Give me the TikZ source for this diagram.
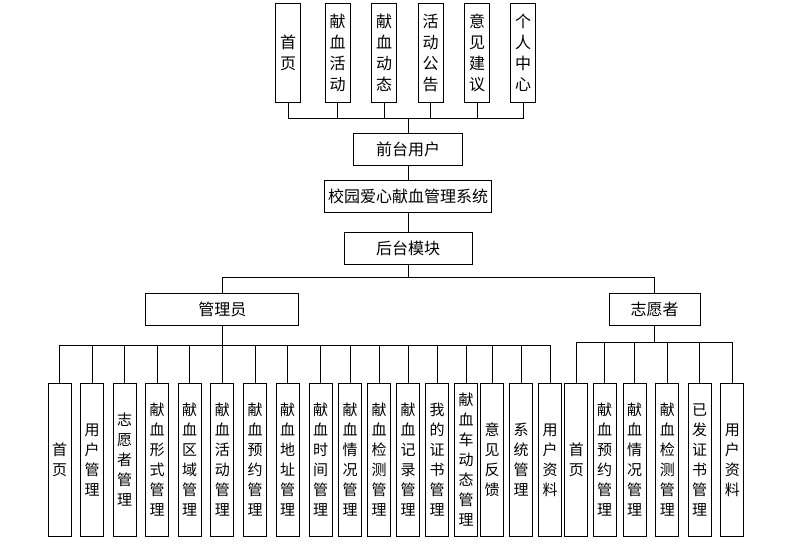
\documentclass[tikz,border=0pt]{standalone}
\usepackage{fontspec}
\newfontfamily\cjk{Noto Sans CJK SC}
\tikzset{
  box/.style={draw=black, line width=0.8pt, inner sep=0pt, align=center,
    font=\cjk\fontsize{16}{21}\selectfont},
  hbox/.style={box, minimum height=32pt},
  topbox/.style={box, minimum width=25pt, minimum height=98.5pt},
  leaf/.style={box, minimum width=23pt, minimum height=153.7pt,
    font=\cjk\fontsize{15}{20}\selectfont},
  link/.style={line width=0.8pt, draw=black}
}
\begin{document}
\begin{tikzpicture}[x=1pt,y=-1pt]
\useasboundingbox (0,0) rectangle (812,547);
% top row
\node[topbox] (t1) at (288,52.75) {首\\页};
\node[topbox] (t2) at (337.5,52.75) {献\\血\\活\\动};
\node[topbox] (t3) at (384,52.75) {献\\血\\动\\态};
\node[topbox] (t4) at (430.5,52.75) {活\\动\\公\\告};
\node[topbox] (t5) at (477,52.75) {意\\见\\建\\议};
\node[topbox] (t6) at (523,52.75) {个\\人\\中\\心};
% middle column
\node[hbox, minimum width=109pt] (qt) at (408,149) {前台用户};
\node[hbox, minimum width=167pt] (sys) at (408,196) {校园爱心献血管理系统};
\node[hbox, minimum width=128pt] (bk) at (408,248) {后台模块};
\node[hbox, minimum width=153pt] (adm) at (222.3,309) {管理员};
\node[hbox, minimum width=91pt] (vol) at (654.5,309) {志愿者};
% admin leaves
\node[leaf] (a1) at (59.5,460) {首\\页};
\node[leaf] (a2) at (92,460) {用\\户\\管\\理};
\node[leaf] (a3) at (124.5,460) {志\\愿\\者\\管\\理};
\node[leaf] (a4) at (157,460) {献\\血\\形\\式\\管\\理};
\node[leaf] (a5) at (189.5,460) {献\\血\\区\\域\\管\\理};
\node[leaf] (a6) at (222.3,460) {献\\血\\活\\动\\管\\理};
\node[leaf] (a7) at (255,460) {献\\血\\预\\约\\管\\理};
\node[leaf] (a8) at (287.5,460) {献\\血\\地\\址\\管\\理};
\node[leaf] (a9) at (320.5,460) {献\\血\\时\\间\\管\\理};
\node[leaf] (a10) at (350,460) {献\\血\\情\\况\\管\\理};
\node[leaf] (a11) at (379,460) {献\\血\\检\\测\\管\\理};
\node[leaf] (a12) at (408,460) {献\\血\\记\\录\\管\\理};
\node[leaf] (a13) at (437,460) {我\\的\\证\\书\\管\\理};
\node[leaf] (a14) at (466,460) {献\\血\\车\\动\\态\\管\\理};
\node[leaf] (a15) at (492,460) {意\\见\\反\\馈};
\node[leaf] (a16) at (521,460) {系\\统\\管\\理};
\node[leaf] (a17) at (550,460) {用\\户\\资\\料};
% volunteer leaves
\node[leaf] (v1) at (576.3,460) {首\\页};
\node[leaf] (v2) at (604.7,460) {献\\血\\预\\约\\管\\理};
\node[leaf] (v3) at (634.7,460) {献\\血\\情\\况\\管\\理};
\node[leaf] (v4) at (667.3,460) {献\\血\\检\\测\\管\\理};
\node[leaf] (v5) at (699.7,460) {已\\发\\证\\书\\管\\理};
\node[leaf] (v6) at (732.3,460) {用\\户\\资\\料};
% buses
\coordinate (b1) at (408,118);
\coordinate (b2) at (408,277);
\coordinate (b3) at (222.3,345);
\coordinate (b4) at (654.5,342);
% connectors
\foreach \n in {t1,t2,t3,t4,t5,t6} \draw[link] (\n.south) |- (b1);
\draw[link] (b1) -- (qt.north);
\draw[link] (qt.south) -- (sys.north);
\draw[link] (sys.south) -- (bk.north);
\draw[link] (bk.south) -- (b2);
\draw[link] (b2) -| (adm.north);
\draw[link] (b2) -| (vol.north);
\draw[link] (adm.south) -- (b3);
\foreach \n in {a1,a2,a3,a4,a5,a6,a7,a8,a9,a10,a11,a12,a13,a14,a15,a16,a17}
  \draw[link] (b3) -| (\n.north);
\draw[link] (vol.south) -- (b4);
\foreach \n in {v1,v2,v3,v4,v5,v6} \draw[link] (b4) -| (\n.north);
\end{tikzpicture}
\end{document}
